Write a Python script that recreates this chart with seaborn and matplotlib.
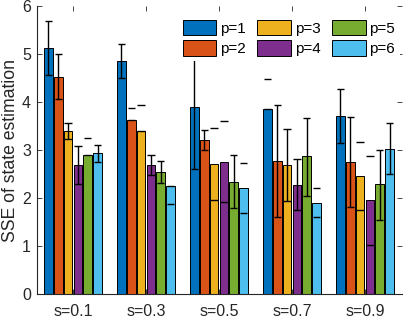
import matplotlib
matplotlib.use("Agg")
import matplotlib.pyplot as plt
import numpy as np
import pandas as pd
import seaborn as sns

groups = ["s=0.1", "s=0.3", "s=0.5", "s=0.7", "s=0.9"]
series = ["p=1", "p=2", "p=3", "p=4", "p=5", "p=6"]
colors = ["#0072BD", "#D95319", "#EDB120", "#7E2F8E", "#77AC30", "#4DBEEE"]

# bar heights per series (one value per group)
p1 = [5.12, 4.85, 3.89, 3.85, 3.71]
p2 = [4.52, 3.62, 3.21, 2.77, 2.74]
p3 = [3.40, 3.39, 2.70, 2.68, 2.46]
p4 = [2.69, 2.69, 2.76, 2.28, 1.95]
p5 = [2.90, 2.54, 2.33, 2.875, 2.29]
p6 = [2.93, 2.25, 2.20, 1.89, 3.03]

# error-bar lower / upper ends per series
p1_lo = [4.56, 4.49, 2.61, 3.85, 3.14]
p1_hi = [5.68, 5.20, 5.05, 4.47, 4.28]
p2_lo = [4.06, 3.62, 3.01, 1.61, 1.805]
p2_hi = [4.99, 3.87, 3.41, 3.93, 3.68]
p3_lo = [3.22, 3.39, 1.95, 1.94, 1.76]
p3_hi = [3.57, 3.93, 3.46, 3.43, 3.16]
p4_lo = [2.29, 2.47, 1.92, 1.76, 1.03]
p4_hi = [3.08, 2.89, 3.60, 2.81, 2.875]
p5_lo = [2.90, 2.32, 1.785, 2.04, 1.535]
p5_hi = [3.24, 2.78, 2.89, 3.67, 3.01]
p6_lo = [2.74, 1.875, 1.68, 1.60, 2.50]
p6_hi = [3.10, 2.25, 2.72, 2.20, 3.57]

# whether the vertical stem of each error bar is visible
p1_stem = [1, 1, 1, 0, 1]
p2_stem = [1, 0, 1, 1, 1]
p3_stem = [1, 0, 0, 1, 0]
p4_stem = [1, 1, 0, 1, 0]
p5_stem = [0, 1, 1, 1, 1]
p6_stem = [1, 0, 0, 0, 1]

values = [p1, p2, p3, p4, p5, p6]
lows = [p1_lo, p2_lo, p3_lo, p4_lo, p5_lo, p6_lo]
highs = [p1_hi, p2_hi, p3_hi, p4_hi, p5_hi, p6_hi]
stems = [p1_stem, p2_stem, p3_stem, p4_stem, p5_stem, p6_stem]

df = pd.DataFrame({
    "group": [g for s in series for g in groups],
    "series": [s for s in series for g in groups],
    "value": [v for vals in values for v in vals],
})

plt.rcParams["font.family"] = ["Liberation Sans", "DejaVu Sans"]
dark = "#262626"

fig = plt.figure(figsize=(4.04, 3.18), dpi=100)
ax = fig.add_axes([36.5 / 404, 24 / 318, 365 / 404, 288 / 318])

sns.barplot(data=df, x="group", y="value", hue="series", order=groups,
            hue_order=series, palette=colors, saturation=1, width=0.81,
            gap=0.12, errorbar=None, edgecolor="black", linewidth=0.7,
            ax=ax, zorder=2)

# error bars using bar positions from seaborn
for j, cont in enumerate(ax.containers):
    for i, bar in enumerate(cont.patches):
        xc = bar.get_x() + bar.get_width() / 2
        half = bar.get_width() * 0.42
        lo, hi = lows[j][i], highs[j][i]
        if stems[j][i]:
            ax.vlines(xc, lo, hi, color="black", linewidth=1.0, zorder=3)
        ax.hlines([lo, hi], xc - half, xc + half, color="black",
                  linewidth=1.0, zorder=3)

ax.set_xlim(-0.5, 4.5)
ax.set_ylim(0, 6)
ax.set_yticks(range(0, 7))
ax.set_xlabel("")
ax.set_ylabel("SSE of state estimation", fontsize=12.7, color=dark, labelpad=2)
ax.tick_params(axis="both", direction="in", top=True, right=True,
               length=3.5, width=0.6, color=dark, labelcolor=dark,
               labelsize=11.5)
ax.tick_params(axis="x", pad=7)
ax.tick_params(axis="y", pad=4)
for side in ["top", "right"]:
    ax.spines[side].set_visible(False)
for side in ["left", "bottom"]:
    ax.spines[side].set_color(dark)
    ax.spines[side].set_linewidth(0.8)

handles, labels = ax.get_legend_handles_labels()
if ax.get_legend() is not None:
    ax.get_legend().remove()
leg = ax.legend(handles, labels, ncol=3, loc="upper left",
                bbox_to_anchor=(0.388, 0.968), frameon=True, fancybox=False,
                facecolor="white", edgecolor="none", framealpha=1,
                fontsize=11, handlelength=2.2, handleheight=1.2,
                handletextpad=0.25, columnspacing=0.75, labelspacing=0.3,
                borderpad=0.3, borderaxespad=0)
leg.set_zorder(5)

fig.savefig("out.png", dpi=100)
